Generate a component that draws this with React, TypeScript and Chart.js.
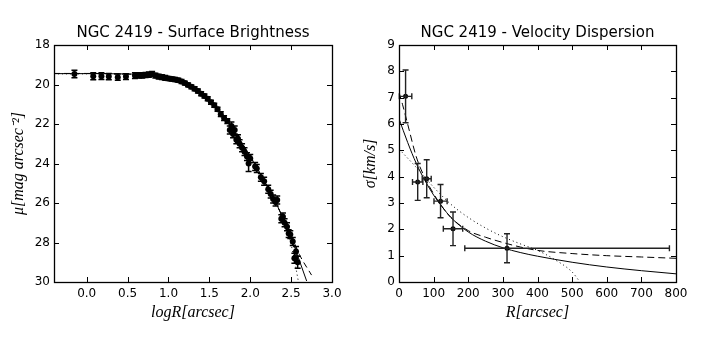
import { useEffect, useRef } from 'react';
import { Chart, registerables } from 'chart.js';
Chart.register(...registerables);

// ---------- Surface brightness (left) ----------
const sbLogR = [-0.15, 0.08, 0.18, 0.27, 0.38, 0.48, 0.59, 0.64, 0.68, 0.72, 0.76, 0.8, 0.84, 0.88, 0.92, 0.96, 1.0, 1.04, 1.08, 1.12, 1.16, 1.2, 1.24, 1.28, 1.32, 1.36, 1.4, 1.44, 1.48, 1.52, 1.56, 1.6, 1.64, 1.68, 1.72, 1.75, 1.77, 1.79, 1.81, 1.83, 1.85, 1.87, 1.9, 1.93, 1.96, 1.98, 2.0, 2.06, 2.08, 2.13, 2.17, 2.22, 2.25, 2.28, 2.31, 2.33, 2.38, 2.4, 2.42, 2.45, 2.47, 2.49, 2.52, 2.54, 2.56, 2.58];
const sbMu = [19.47, 19.58, 19.58, 19.6, 19.63, 19.6, 19.55, 19.54, 19.54, 19.52, 19.5, 19.47, 19.55, 19.6, 19.63, 19.66, 19.7, 19.72, 19.75, 19.78, 19.85, 19.93, 20.02, 20.12, 20.22, 20.33, 20.47, 20.58, 20.72, 20.9, 21.05, 21.25, 21.5, 21.7, 21.85, 22.3, 22.1, 22.5, 22.3, 22.8, 22.75, 23.0, 23.2, 23.4, 23.65, 24.0, 23.75, 24.15, 24.25, 24.7, 24.9, 25.3, 25.55, 25.8, 25.95, 25.85, 26.8, 26.7, 27.0, 27.2, 27.55, 27.6, 27.95, 28.8, 28.45, 29.0];
const sbErr = [0.19, 0.18, 0.17, 0.16, 0.16, 0.15, 0.14, 0.13, 0.13, 0.13, 0.13, 0.13, 0.12, 0.12, 0.12, 0.12, 0.1, 0.1, 0.1, 0.1, 0.1, 0.1, 0.1, 0.1, 0.1, 0.1, 0.1, 0.1, 0.1, 0.1, 0.1, 0.1, 0.12, 0.12, 0.12, 0.2, 0.2, 0.2, 0.2, 0.2, 0.2, 0.2, 0.2, 0.2, 0.2, 0.4, 0.2, 0.2, 0.2, 0.2, 0.2, 0.2, 0.2, 0.2, 0.2, 0.2, 0.2, 0.2, 0.2, 0.2, 0.2, 0.2, 0.2, 0.25, 0.25, 0.3];

const sbSolidX = [-0.4, 0.0, 0.4, 0.7, 0.9, 1.0, 1.1, 1.2, 1.3, 1.4, 1.5, 1.6, 1.7, 1.8, 1.9, 2.0, 2.1, 2.2, 2.3, 2.4, 2.5, 2.6, 2.69];
const sbSolidY = [19.45, 19.45, 19.46, 19.5, 19.58, 19.65, 19.77, 19.93, 20.17, 20.47, 20.83, 21.27, 21.77, 22.35, 22.98, 23.65, 24.35, 25.1, 25.88, 26.75, 27.75, 28.9, 29.95];
const sbDashX = [-0.4, 0.0, 0.4, 0.7, 0.9, 1.0, 1.1, 1.2, 1.3, 1.4, 1.5, 1.6, 1.7, 1.8, 1.9, 2.0, 2.1, 2.2, 2.3, 2.4, 2.5, 2.6, 2.75];
const sbDashY = [19.44, 19.44, 19.46, 19.51, 19.59, 19.66, 19.78, 19.95, 20.19, 20.5, 20.86, 21.3, 21.8, 22.37, 23.0, 23.67, 24.37, 25.12, 25.9, 26.75, 27.62, 28.6, 29.65];
const sbDotX = [-0.4, 0.0, 0.4, 0.7, 0.9, 1.0, 1.1, 1.2, 1.3, 1.4, 1.5, 1.6, 1.7, 1.8, 1.9, 2.0, 2.1, 2.2, 2.3, 2.4, 2.45, 2.5, 2.55, 2.59];
const sbDotY = [19.46, 19.46, 19.47, 19.5, 19.57, 19.64, 19.76, 19.92, 20.16, 20.46, 20.82, 21.26, 21.76, 22.34, 22.97, 23.64, 24.34, 25.09, 25.87, 26.75, 27.35, 28.1, 29.1, 30.0];

const sbXTicks = [0.0, 0.5, 1.0, 1.5, 2.0, 2.5, 3.0];
const sbYTicks = [18, 20, 22, 24, 26, 28, 30];

// ---------- Velocity dispersion (right) ----------
const vdR = [19, 54, 80, 120, 156, 312];
const vdSigma = [7.05, 3.8, 3.92, 3.07, 2.02, 1.28];
const vdSigmaErr = [1.0, 0.7, 0.72, 0.63, 0.64, 0.55];
const vdRErrLo = [18, 15, 13, 19, 28, 122];
const vdRErrHi = [18, 15, 13, 19, 28, 469];

const vdSolidX = [0, 25, 50, 75, 100, 125, 150, 200, 250, 300, 350, 400, 500, 600, 700, 800];
const vdSolidY = [6.2, 5.3, 4.5, 3.85, 3.3, 2.85, 2.45, 1.9, 1.55, 1.3, 1.12, 0.98, 0.75, 0.57, 0.43, 0.31];
const vdDashX = [0, 10, 25, 50, 75, 100, 125, 150, 200, 250, 300, 350, 400, 500, 600, 700, 800];
const vdDashY = [7.2, 6.75, 6.0, 4.75, 3.95, 3.35, 2.85, 2.45, 1.95, 1.7, 1.5, 1.33, 1.2, 1.08, 1.0, 0.95, 0.9];
const vdDotX = [0, 50, 100, 150, 200, 250, 300, 350, 400, 450, 500, 520];
const vdDotY = [5.05, 4.35, 3.6, 2.95, 2.45, 2.05, 1.72, 1.45, 1.2, 0.85, 0.38, 0.05];

const vdXTicks = [0, 100, 200, 300, 400, 500, 600, 700, 800];
const vdYTicks = [0, 1, 2, 3, 4, 5, 6, 7, 8, 9];

const zip = (xs: number[], ys: number[]) => xs.map((x, i) => ({ x, y: ys[i] }));

const errorBarPlugin = {
  id: 'errorBars',
  afterDatasetsDraw(chart: any) {
    const ctx = chart.ctx;
    const xs = chart.scales.x;
    const ys = chart.scales.y;
    ctx.save();
    chart.data.datasets.forEach((ds: any) => {
      if (!ds.errY) return;
      ctx.strokeStyle = ds.errColor || '#000';
      ctx.lineWidth = ds.errWidth || 1;
      const cap = 3;
      ds.data.forEach((p: any, j: number) => {
        const x = xs.getPixelForValue(p.x);
        const y = ys.getPixelForValue(p.y);
        const e = ds.errY[j];
        const y1 = ys.getPixelForValue(p.y - e);
        const y2 = ys.getPixelForValue(p.y + e);
        ctx.beginPath();
        ctx.moveTo(x, y1); ctx.lineTo(x, y2);
        ctx.moveTo(x - cap, y1); ctx.lineTo(x + cap, y1);
        ctx.moveTo(x - cap, y2); ctx.lineTo(x + cap, y2);
        if (ds.errXLo) {
          const x1 = xs.getPixelForValue(p.x - ds.errXLo[j]);
          const x2 = xs.getPixelForValue(p.x + ds.errXHi[j]);
          ctx.moveTo(x1, y); ctx.lineTo(x2, y);
          ctx.moveTo(x1, y - cap); ctx.lineTo(x1, y + cap);
          ctx.moveTo(x2, y - cap); ctx.lineTo(x2, y + cap);
        }
        ctx.stroke();
      });
    });
    ctx.restore();
  },
};

const framePlugin = {
  id: 'frameTicks',
  afterDraw(chart: any) {
    const { ctx, chartArea: a } = chart;
    const xs = chart.scales.x;
    const ys = chart.scales.y;
    const L = 5;
    ctx.save();
    ctx.strokeStyle = '#000';
    ctx.lineWidth = 1;
    ctx.beginPath();
    xs.ticks.forEach((t: any) => {
      const px = Math.round(xs.getPixelForValue(t.value)) + 0.5;
      ctx.moveTo(px, a.bottom); ctx.lineTo(px, a.bottom - L);
      ctx.moveTo(px, a.top); ctx.lineTo(px, a.top + L);
    });
    ys.ticks.forEach((t: any) => {
      const py = Math.round(ys.getPixelForValue(t.value)) + 0.5;
      ctx.moveTo(a.left, py); ctx.lineTo(a.left + L, py);
      ctx.moveTo(a.right, py); ctx.lineTo(a.right - L, py);
    });
    ctx.stroke();
    ctx.lineWidth = 1.3;
    ctx.strokeRect(Math.round(a.left) + 0.5, Math.round(a.top) + 0.5, Math.round(a.right - a.left), Math.round(a.bottom - a.top));
    ctx.restore();
  },
};

const tickFont = { family: 'DejaVu Sans', size: 12 };
const axisTitleFont = { family: 'Liberation Serif', size: 16, style: 'italic' as const };

function makeOptions(cfg: any) {
  return {
    responsive: false,
    animation: false,
    layout: { padding: { left: 0, right: cfg.padRight, top: 0, bottom: 0 } },
    plugins: {
      legend: { display: false },
      tooltip: { enabled: false },
      title: {
        display: true,
        text: cfg.title,
        fullSize: false,
        color: '#000',
        font: { family: 'DejaVu Sans', size: 15, weight: 'normal' },
        padding: { top: 24, bottom: 3 },
      },
    },
    scales: {
      x: {
        type: 'linear',
        min: cfg.xMin,
        max: cfg.xMax,
        grid: { display: false, drawTicks: false },
        border: { display: false },
        afterBuildTicks: (s: any) => { s.ticks = cfg.xTicks.map((v: number) => ({ value: v })); },
        afterFit: (s: any) => { s.height = 57; },
        ticks: { color: '#000', font: tickFont, padding: 5, maxRotation: 0, autoSkip: false, callback: cfg.xFmt },
        title: { display: true, text: cfg.xTitle, color: '#000', font: axisTitleFont, padding: { top: 0, bottom: 17 } },
      },
      y: {
        type: 'linear',
        min: cfg.yMin,
        max: cfg.yMax,
        reverse: cfg.reverse,
        grid: { display: false, drawTicks: false },
        border: { display: false },
        afterBuildTicks: (s: any) => { s.ticks = cfg.yTicks.map((v: number) => ({ value: v })); },
        afterFit: (s: any) => { s.width = cfg.yWidth; },
        ticks: { color: '#000', font: tickFont, padding: 4, autoSkip: false, callback: (v: any) => String(v) },
        title: { display: true, text: cfg.yTitle, color: '#000', font: axisTitleFont, padding: { top: 9, bottom: 0 } },
      },
    },
  };
}

const lineDs = (data: any[], dash: number[]) => ({
  data,
  showLine: true,
  pointRadius: 0,
  borderColor: '#000',
  borderWidth: 1,
  borderDash: dash,
  cubicInterpolationMode: 'monotone',
  fill: false,
});

export default function App() {
  const leftRef = useRef<HTMLCanvasElement>(null);
  const rightRef = useRef<HTMLCanvasElement>(null);

  useEffect(() => {
    const left = new Chart(leftRef.current!, {
      type: 'scatter',
      data: {
        datasets: [
          lineDs(zip(sbSolidX, sbSolidY), []),
          lineDs(zip(sbDashX, sbDashY), [6, 4]),
          lineDs(zip(sbDotX, sbDotY), [1, 3]),
          {
            data: zip(sbLogR, sbMu),
            errY: sbErr,
            errWidth: 1.5,
            errColor: '#000',
            pointRadius: 3,
            backgroundColor: '#000',
            borderColor: '#000',
            borderWidth: 0,
          } as any,
        ],
      },
      options: makeOptions({
        title: 'NGC 2419 - Surface Brightness',
        padRight: 20,
        xMin: -0.4, xMax: 3.0, xTicks: sbXTicks,
        yMin: 18, yMax: 30, yTicks: sbYTicks, reverse: true,
        yWidth: 54,
        xFmt: (v: any) => Number(v).toFixed(1),
        xTitle: 'logR[arcsec]',
        yTitle: 'μ[mag arcsec⁻²]',
      }) as any,
      plugins: [errorBarPlugin, framePlugin],
    });

    const right = new Chart(rightRef.current!, {
      type: 'scatter',
      data: {
        datasets: [
          lineDs(zip(vdSolidX, vdSolidY), []),
          lineDs(zip(vdDashX, vdDashY), [7, 4]),
          lineDs(zip(vdDotX, vdDotY), [1, 3]),
          {
            data: zip(vdR, vdSigma),
            errY: vdSigmaErr,
            errXLo: vdRErrLo,
            errXHi: vdRErrHi,
            errWidth: 1.4,
            errColor: '#222',
            pointRadius: 2.5,
            backgroundColor: '#000',
            borderColor: '#000',
            borderWidth: 0,
          } as any,
        ],
      },
      options: makeOptions({
        title: 'NGC 2419 - Velocity Dispersion',
        padRight: 29,
        xMin: 0, xMax: 800, xTicks: vdXTicks,
        yMin: 0, yMax: 9, yTicks: vdYTicks, reverse: false,
        yWidth: 47,
        xFmt: (v: any) => String(v),
        xTitle: 'R[arcsec]',
        yTitle: 'σ[km/s]',
      }) as any,
      plugins: [errorBarPlugin, framePlugin],
    });

    return () => { left.destroy(); right.destroy(); };
  }, []);

  return (
    <div style={{ position: 'absolute', left: 0, top: 0, width: 705, height: 339, background: '#fff' }}>
      <canvas ref={leftRef} width={352} height={339} style={{ position: 'absolute', left: 0, top: 0, width: 352, height: 339 }} />
      <canvas ref={rightRef} width={353} height={339} style={{ position: 'absolute', left: 352, top: 0, width: 353, height: 339 }} />
    </div>
  );
}
